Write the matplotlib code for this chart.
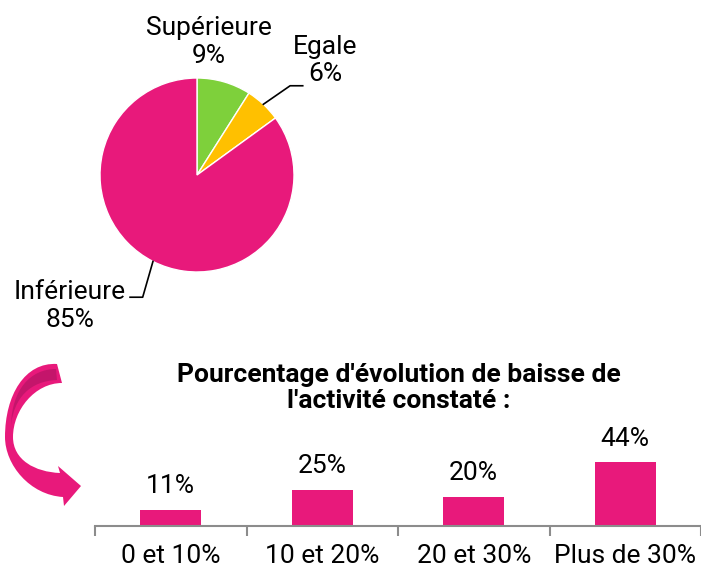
import matplotlib.pyplot as plt
from matplotlib.patches import PathPatch
from matplotlib.path import Path
from matplotlib.transforms import Affine2D

plt.rcParams['font.family'] = ['Roboto', 'DejaVu Sans']

# pie data
pie_labels = ["Supérieure", "Egale", "Inférieure"]
pie_values = [9, 6, 85]
pie_colors = ["#7ED03B", "#FFC000", "#E8197B"]

# bar data
bar_cats = ["0 et 10%", "10 et 20%", "20 et 30%", "Plus de 30%"]
bar_values = [11, 25, 20, 44]
bar_color = "#E8197B"
title = "Pourcentage d'évolution de baisse de\nl'activité constaté :"

W, H = 701, 569
fig = plt.figure(figsize=(W / 100, H / 100), dpi=100)
# pixel coords with top-left origin
px = Affine2D().scale(1 / W, -1 / H).translate(0, 1) + fig.transFigure


def fig_box(x0, y0, x1, y1):
    return [x0 / W, 1 - y1 / H, (x1 - x0) / W, (y1 - y0) / H]


# ---- pie ----
cx, cy, r = 197, 175, 97
axp = fig.add_axes(fig_box(cx - r, cy - r, cx + r, cy + r))
axp.pie(pie_values, colors=pie_colors, startangle=90, counterclock=False,
        radius=1, wedgeprops=dict(edgecolor="white", linewidth=1))
axp.set_xlim(-1, 1)
axp.set_ylim(-1, 1)
axp.set_aspect("equal")
axp.axis("off")

fs = 19
txt = [f"{l}\n{v}%" for l, v in zip(pie_labels, pie_values)]
axp.text(0.12, 1.37, txt[0], ha="center", va="center", fontsize=fs,
         linespacing=1.17, clip_on=False)
axp.text(1.32, 1.18, txt[1], ha="center", va="center", fontsize=fs,
         linespacing=1.17, clip_on=False)
axp.text(-1.31, -1.35, txt[2], ha="center", va="center", fontsize=fs,
         linespacing=1.17, clip_on=False)
axp.plot([0.684, 0.96, 1.09], [0.729, 0.92, 0.92], color="black", lw=1.2,
         clip_on=False)
axp.plot([-0.454, -0.56, -0.69], [-0.891, -1.26, -1.26], color="black",
         lw=1.2, clip_on=False)

# ---- bars ----
base_y = 526
px_per_unit = 1.45
top_px = 100
axb = fig.add_axes(fig_box(95, base_y - top_px, 701, base_y))
x = range(len(bar_cats))
bars = axb.bar(x, bar_values, width=0.4, color=bar_color)
axb.set_xlim(-0.5, len(bar_cats) - 0.5)
axb.set_ylim(0, top_px / px_per_unit)
for b, v in zip(bars, bar_values):
    axb.annotate(f"{v}%", (b.get_x() + b.get_width() / 2, v),
                 xytext=(0, 12), textcoords="offset points",
                 ha="center", va="baseline", fontsize=fs)
for s in ["top", "right", "left"]:
    axb.spines[s].set_visible(False)
axb.spines["bottom"].set_color("#8C8C8C")
axb.spines["bottom"].set_linewidth(1.5)
axb.set_yticks([])
axb.set_xticks(list(x))
axb.set_xticklabels(bar_cats, fontsize=fs)
axb.tick_params(axis="x", length=0, pad=13)
axb.set_xticks([i - 0.5 for i in range(len(bar_cats) + 1)], minor=True)
axb.tick_params(axis="x", which="minor", length=7, width=1.5, color="#8C8C8C")

fig.text(399 / W, 1 - 388 / H, title, ha="center", va="center",
         fontsize=19, fontweight="bold", linespacing=1.13)

# ---- curved arrow (decoration) ----
M, L, C, Z = Path.MOVETO, Path.LINETO, Path.CURVE4, Path.CLOSEPOLY
arrow_pts = [
    (57, 364),
    (25, 362), (5, 395), (5, 437),
    (5, 465), (30, 495), (63, 497),
    (64, 506), (81, 486), (58, 466), (60, 473),
    (35, 472), (13, 460), (13, 437),
    (13, 410), (35, 383), (62, 383),
    (57, 364),
]
arrow_codes = [M, C, C, C, C, C, C, L, L, L, L, C, C, C, C, C, C, Z]
fig.patches.append(PathPatch(Path(arrow_pts, arrow_codes), transform=px,
                             facecolor=bar_color, edgecolor="none"))
shade_pts = [
    (56, 369),
    (30, 369), (12, 390), (11, 425),
    (14, 398), (30, 381), (57, 380),
    (56, 369),
]
shade_codes = [M, C, C, C, C, C, C, Z]
fig.patches.append(PathPatch(Path(shade_pts, shade_codes), transform=px,
                             facecolor="#C4156B", edgecolor="none"))

fig.savefig("out.png", dpi=100)
